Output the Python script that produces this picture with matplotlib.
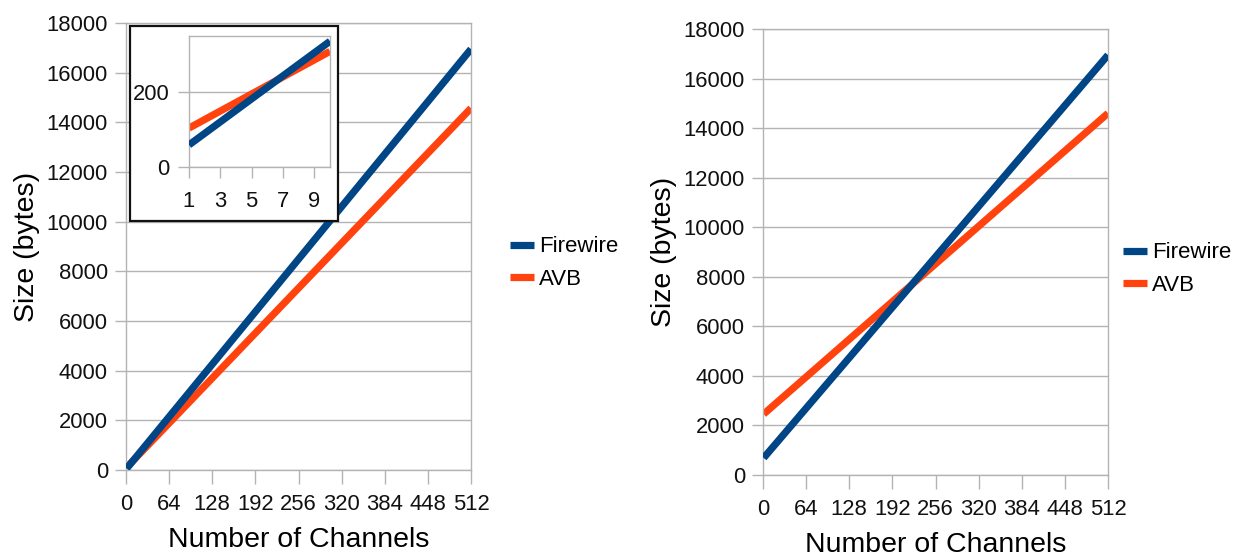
import matplotlib
matplotlib.use("Agg")
import matplotlib.pyplot as plt
from matplotlib.patches import Rectangle

plt.rcParams["font.family"] = ["Liberation Sans", "DejaVu Sans"]

# Channel counts at the ends of each (linear) series
channels = [1, 512]
left_firewire = [60, 16950]
left_avb = [105, 14570]
right_firewire = [690, 16950]
right_avb = [2460, 14600]

# Zoomed view of the first few channels
inset_channels = [1, 10]
inset_firewire = [59, 336]
inset_avb = [104, 309]

x_ticks = [0, 64, 128, 192, 256, 320, 384, 448, 512]
y_ticks = [0, 2000, 4000, 6000, 8000, 10000, 12000, 14000, 16000, 18000]
inset_x_ticks = [1, 3, 5, 7, 9]
inset_y_ticks = [0, 200]

series_names = ["Firewire", "AVB"]
FW_COLOR = "#004586"
AVB_COLOR = "#ff420e"
GRID = "#b3b3b3"
LW = 5.2
TICK_FS = 15.8
LABEL_FS = 20.5

W, H = 1240, 558
fig = plt.figure(figsize=(W / 100, H / 100), dpi=100)


def px_axes(x0, y0, x1, y1):
    return fig.add_axes([x0 / W, 1 - y1 / H, (x1 - x0) / W, (y1 - y0) / H])


def style(ax, ytick_len=8, xtick_len=10, xpad=7, ypad=5):
    for s in ax.spines.values():
        s.set_color(GRID)
        s.set_linewidth(1.0)
    ax.grid(axis="y", color=GRID, linewidth=1.0)
    ax.set_axisbelow(True)
    ax.tick_params(axis="y", length=ytick_len, color=GRID, width=1.0,
                   pad=ypad, labelsize=TICK_FS, labelcolor="#111111")
    ax.tick_params(axis="x", length=xtick_len, color=GRID, width=1.0,
                   pad=xpad, labelsize=TICK_FS, labelcolor="#111111")


def draw_main(ax, fw, avb):
    ax.plot(channels, avb, color=AVB_COLOR, lw=LW, solid_capstyle="butt",
            label=series_names[1], zorder=2)
    ax.plot(channels, fw, color=FW_COLOR, lw=LW, solid_capstyle="butt",
            label=series_names[0], zorder=3)
    ax.set_xlim(0, 512)
    ax.set_ylim(0, 18000)
    ax.set_xticks(x_ticks)
    ax.set_yticks(y_ticks)
    style(ax)
    ax.set_xlabel("Number of Channels", fontsize=LABEL_FS, labelpad=9)
    ax.set_ylabel("Size (bytes)", fontsize=LABEL_FS, labelpad=5)


def add_legend(ax, x_px, y_px):
    h, l = ax.get_legend_handles_labels()
    order = [1, 0]
    fig.legend([h[i] for i in order], [l[i] for i in order],
               loc="center left", bbox_to_anchor=(x_px / W, 1 - y_px / H),
               frameon=False, fontsize=16, handlelength=1.1,
               handletextpad=0.22, labelspacing=0.5, borderpad=0,
               borderaxespad=0)


# Left panel
ax1 = px_axes(126, 23, 471, 470)
draw_main(ax1, left_firewire, left_avb)
add_legend(ax1, 510, 263)

# Inset frame and zoomed axes
frame = Rectangle((130 / W, 1 - 221 / H), 208 / W, 195 / H,
                  transform=fig.transFigure, facecolor="white",
                  edgecolor="#111111", linewidth=1.6, zorder=5)
fig.add_artist(frame)
axi = px_axes(189, 36, 330, 167)
axi.set_zorder(6)
axi.plot(inset_channels, inset_avb, color=AVB_COLOR, lw=LW,
         solid_capstyle="butt", zorder=2)
axi.plot(inset_channels, inset_firewire, color=FW_COLOR, lw=LW,
         solid_capstyle="butt", zorder=3)
axi.set_xlim(1, 10)
axi.set_ylim(0, 350)
axi.set_xticks(inset_x_ticks)
axi.set_yticks(inset_y_ticks)
style(axi, ytick_len=8, xtick_len=8, xpad=9, ypad=6)

# Right panel
ax2 = px_axes(763, 29, 1108, 475)
draw_main(ax2, right_firewire, right_avb)
add_legend(ax2, 1123, 269)

fig.savefig("out.png", dpi=100)
